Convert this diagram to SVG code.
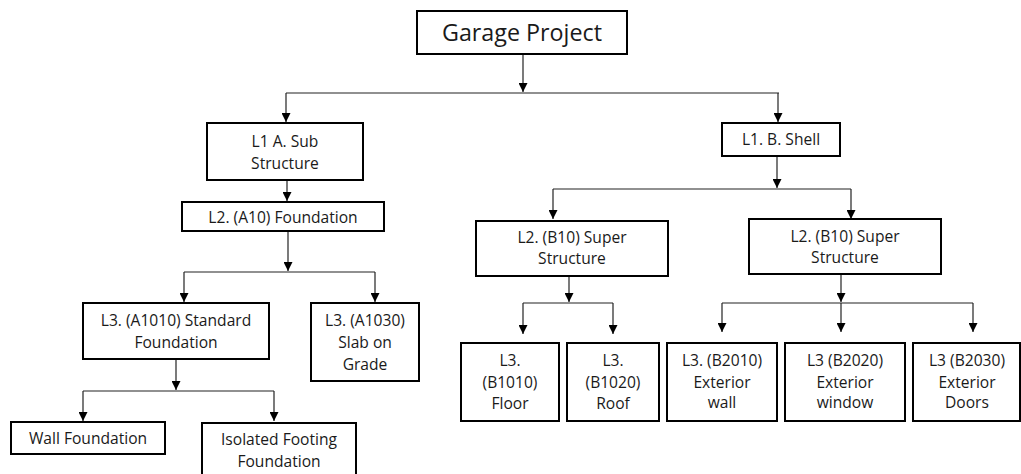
<svg xmlns="http://www.w3.org/2000/svg" width="1021" height="474" viewBox="0 0 1021 474">
  <style>
    .box { fill: #ffffff; stroke: #000000; stroke-width: 2; }
    .lbl { font-family: "Open Sans", "Liberation Sans", sans-serif; font-size: 15.6px; fill: #1a1a1a; text-anchor: middle; }
    .title { font-size: 23.3px; }
    .wire { fill: none; stroke: #222222; stroke-width: 1.2; }
    .arr { marker-end: url(#head); }
  </style>
  <defs>
    <marker id="head" viewBox="0 0 10 10" refX="10" refY="5" markerUnits="userSpaceOnUse" markerWidth="9" markerHeight="9" orient="auto">
      <path d="M0,0 L10,5 L0,10 Z" fill="#000000"/>
    </marker>
  </defs>
  <rect width="1021" height="474" fill="#ffffff"/>

  <g id="connectors">
    <!-- root to level 1 -->
    <line class="wire arr" x1="523" y1="54" x2="523" y2="92"/>
    <polyline class="wire arr" points="286,93 286,122"/>
    <polyline class="wire" points="286,93 779,93"/>
    <polyline class="wire arr" points="778,93 778,122"/>
    <!-- sub structure branch -->
    <line class="wire arr" x1="287" y1="180" x2="287" y2="201"/>
    <line class="wire arr" x1="288" y1="231" x2="288" y2="271"/>
    <polyline class="wire arr" points="184,272 184,302"/>
    <polyline class="wire" points="184,272 375,272"/>
    <polyline class="wire arr" points="375,272 375,302"/>
    <line class="wire arr" x1="176" y1="359" x2="176" y2="390"/>
    <polyline class="wire arr" points="83,391 83,421"/>
    <polyline class="wire" points="83,391 274,391"/>
    <polyline class="wire arr" points="274,391 274,421"/>
    <!-- shell branch -->
    <line class="wire arr" x1="777" y1="156" x2="777" y2="188"/>
    <polyline class="wire arr" points="553,189 553,219"/>
    <polyline class="wire" points="553,189 851,189"/>
    <polyline class="wire arr" points="851,189 851,219"/>
    <line class="wire arr" x1="569" y1="276" x2="569" y2="302"/>
    <polyline class="wire arr" points="523,303 523,334"/>
    <polyline class="wire" points="523,303 613,303"/>
    <polyline class="wire arr" points="613,303 613,334"/>
    <line class="wire arr" x1="841" y1="274" x2="841" y2="302"/>
    <polyline class="wire arr" points="722,303 722,332"/>
    <polyline class="wire" points="722,303 973,303"/>
    <polyline class="wire arr" points="841,303 841,332"/>
    <polyline class="wire arr" points="973,303 973,332"/>
  </g>

  <g id="garage-project">
    <rect class="box" x="417" y="11" width="210" height="43"/>
    <text class="lbl title" x="522" y="41">Garage Project</text>
  </g>

  <g id="l1-a-sub-structure">
    <rect class="box" x="207" y="123" width="156" height="57"/>
    <text class="lbl" x="285" y="147">L1 A. Sub</text>
    <text class="lbl" x="285" y="169">Structure</text>
  </g>

  <g id="l2-a10-foundation">
    <rect class="box" x="182" y="202" width="202" height="29"/>
    <text class="lbl" x="283" y="223">L2. (A10) Foundation</text>
  </g>

  <g id="l3-a1010-standard-foundation">
    <rect class="box" x="83" y="303" width="186" height="56"/>
    <text class="lbl" x="176" y="326">L3. (A1010) Standard</text>
    <text class="lbl" x="176" y="348">Foundation</text>
  </g>

  <g id="l3-a1030-slab-on-grade">
    <rect class="box" x="311" y="303" width="108" height="78"/>
    <text class="lbl" x="365" y="326">L3. (A1030)</text>
    <text class="lbl" x="365" y="348">Slab on</text>
    <text class="lbl" x="365" y="370">Grade</text>
  </g>

  <g id="wall-foundation">
    <rect class="box" x="11" y="422" width="154" height="32"/>
    <text class="lbl" x="88" y="444">Wall Foundation</text>
  </g>

  <g id="isolated-footing-foundation">
    <rect class="box" x="202" y="423" width="154" height="60"/>
    <text class="lbl" x="279" y="445">Isolated Footing</text>
    <text class="lbl" x="279" y="467">Foundation</text>
  </g>

  <g id="l1-b-shell">
    <rect class="box" x="722" y="123" width="118" height="33"/>
    <text class="lbl" x="781" y="145">L1. B. Shell</text>
  </g>

  <g id="l2-b10-super-structure-left">
    <rect class="box" x="476" y="221" width="192" height="55"/>
    <text class="lbl" x="572" y="243">L2. (B10) Super</text>
    <text class="lbl" x="572" y="264">Structure</text>
  </g>

  <g id="l2-b10-super-structure-right">
    <rect class="box" x="749" y="219" width="192" height="55"/>
    <text class="lbl" x="845" y="242">L2. (B10) Super</text>
    <text class="lbl" x="845" y="263">Structure</text>
  </g>

  <g id="l3-b1010-floor">
    <rect class="box" x="461" y="343" width="98" height="78"/>
    <text class="lbl" x="510" y="366">L3.</text>
    <text class="lbl" x="510" y="388">(B1010)</text>
    <text class="lbl" x="510" y="409">Floor</text>
  </g>

  <g id="l3-b1020-roof">
    <rect class="box" x="567" y="343" width="92" height="78"/>
    <text class="lbl" x="613" y="366">L3.</text>
    <text class="lbl" x="613" y="388">(B1020)</text>
    <text class="lbl" x="613" y="409">Roof</text>
  </g>

  <g id="l3-b2010-exterior-wall">
    <rect class="box" x="667" y="343" width="110" height="78"/>
    <text class="lbl" x="722" y="366">L3. (B2010)</text>
    <text class="lbl" x="722" y="388">Exterior</text>
    <text class="lbl" x="722" y="408">wall</text>
  </g>

  <g id="l3-b2020-exterior-window">
    <rect class="box" x="785" y="343" width="120" height="78"/>
    <text class="lbl" x="845" y="366">L3 (B2020)</text>
    <text class="lbl" x="845" y="388">Exterior</text>
    <text class="lbl" x="845" y="408">window</text>
  </g>

  <g id="l3-b2030-exterior-doors">
    <rect class="box" x="913" y="343" width="107" height="78"/>
    <text class="lbl" x="967" y="366">L3 (B2030)</text>
    <text class="lbl" x="967" y="388">Exterior</text>
    <text class="lbl" x="967" y="408">Doors</text>
  </g>
</svg>
